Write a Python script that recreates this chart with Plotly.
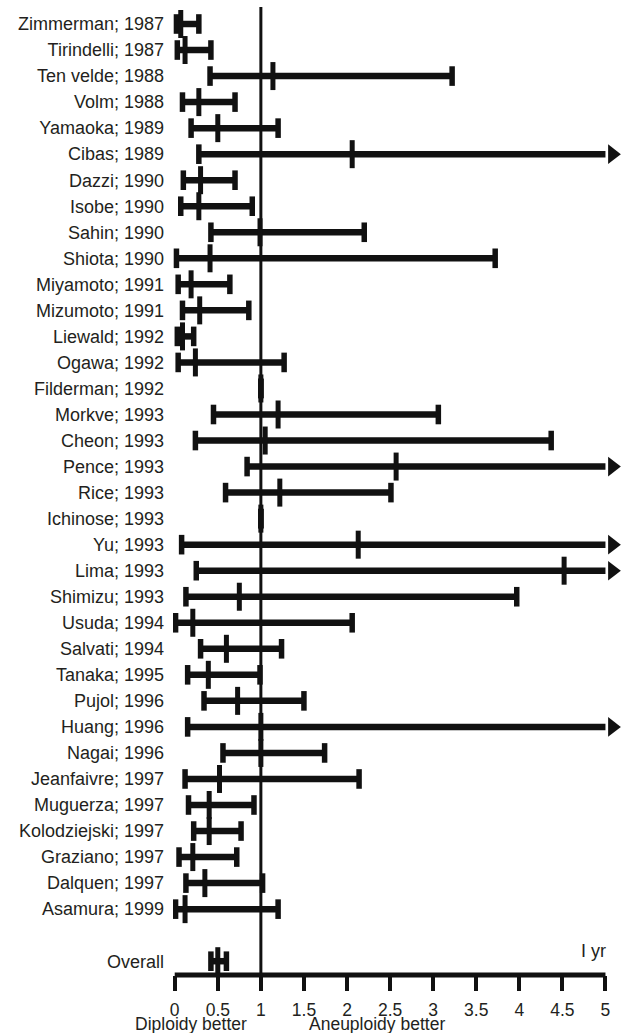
import plotly.graph_objects as go

studies = ["Zimmerman; 1987", "Tirindelli; 1987", "Ten velde; 1988", "Volm; 1988",
           "Yamaoka; 1989", "Cibas; 1989", "Dazzi; 1990", "Isobe; 1990", "Sahin; 1990",
           "Shiota; 1990", "Miyamoto; 1991", "Mizumoto; 1991", "Liewald; 1992",
           "Ogawa; 1992", "Filderman; 1992", "Morkve; 1993", "Cheon; 1993", "Pence; 1993",
           "Rice; 1993", "Ichinose; 1993", "Yu; 1993", "Lima; 1993", "Shimizu; 1993",
           "Usuda; 1994", "Salvati; 1994", "Tanaka; 1995", "Pujol; 1996", "Huang; 1996",
           "Nagai; 1996", "Jeanfaivre; 1997", "Muguerza; 1997", "Kolodziejski; 1997",
           "Graziano; 1997", "Dalquen; 1997", "Asamura; 1999"]
lower = [0.02, 0.03, 0.41, 0.09, 0.19, 0.28, 0.10, 0.07, 0.42, 0.02, 0.04, 0.09, 0.03,
         0.04, 1.00, 0.45, 0.24, 0.84, 0.59, 1.00, 0.08, 0.25, 0.13, 0.01, 0.30, 0.15,
         0.34, 0.15, 0.56, 0.12, 0.16, 0.22, 0.05, 0.13, 0.01]
estimate = [0.07, 0.12, 1.14, 0.28, 0.50, 2.06, 0.30, 0.28, 0.99, 0.41, 0.19, 0.29, 0.09,
            0.24, 1.00, 1.20, 1.05, 2.57, 1.22, 1.00, 2.13, 4.52, 0.75, 0.21, 0.60, 0.39,
            0.73, 1.00, 1.00, 0.52, 0.40, 0.40, 0.21, 0.35, 0.12]
# None = interval runs past the right edge of the scale (drawn as an arrow)
upper = [0.28, 0.42, 3.22, 0.70, 1.20, None, 0.70, 0.90, 2.20, 3.72, 0.64, 0.86, 0.22,
         1.27, 1.00, 3.06, 4.37, None, 2.51, 1.00, None, None, 3.97, 2.06, 1.24, 0.99,
         1.50, None, 1.74, 2.14, 0.92, 0.77, 0.72, 1.02, 1.20]

overall_label = "Overall"
overall = [0.42, 0.50, 0.60]  # lower, estimate, upper

tick_vals = [0, 0.5, 1, 1.5, 2, 2.5, 3, 3.5, 4, 4.5, 5]
tick_text = ["0", "0.5", "1", "1.5", "2", "2.5", "3", "3.5", "4", "4.5", "5"]
X_MAX = 5.0
NULL_VALUE = 1.0

FONT = "Liberation Sans, Arial, sans-serif"
TEXT_COLOR = "#231f20"
INK = "#111111"

labels = studies + [overall_label]
rows = list(range(len(studies))) + [len(studies) + 1]
lo_all = lower + [overall[0]]
est_all = estimate + [overall[1]]
up_all = upper + [overall[2]]

line_x, line_y = [], []
cap_x, cap_y = [], []
arr_x, arr_y = [], []
arrow_offset = 0.08
for r, lo, up in zip(rows, lo_all, up_all):
    right = X_MAX if up is None else up
    line_x += [lo, right, None]
    line_y += [r, r, None]
    cap_x.append(lo)
    cap_y.append(r)
    if up is None:
        arr_x.append(X_MAX + arrow_offset)
        arr_y.append(r)
    else:
        cap_x.append(up)
        cap_y.append(r)

fig = go.Figure()
fig.add_trace(go.Scatter(x=line_x, y=line_y, mode="lines",
                         line=dict(color=INK, width=6.5), hoverinfo="skip",
                         showlegend=False))
fig.add_trace(go.Scatter(x=cap_x, y=cap_y, mode="markers",
                         marker=dict(symbol="line-ns", size=14,
                                     line=dict(color=INK, width=5.5)),
                         showlegend=False))
fig.add_trace(go.Scatter(x=est_all, y=rows, mode="markers",
                         marker=dict(symbol="line-ns", size=20,
                                     line=dict(color=INK, width=5)),
                         showlegend=False))
fig.add_trace(go.Scatter(x=arr_x, y=arr_y, mode="markers",
                         marker=dict(symbol="triangle-right", size=17, color=INK,
                                     line=dict(width=0)),
                         cliponaxis=False, showlegend=False))

fig.add_shape(type="line", xref="x", yref="paper", x0=NULL_VALUE, x1=NULL_VALUE,
              y0=0, y1=1, line=dict(color=INK, width=3), layer="below")
fig.add_shape(type="line", xref="x", yref="paper", x0=tick_vals[0], x1=tick_vals[-1],
              y0=0, y1=0, line=dict(color=INK, width=5))

fig.add_annotation(text="I yr", xref="x", yref="y", x=X_MAX + 0.03, y=35.6,
                   xanchor="right", yanchor="middle", showarrow=False,
                   font=dict(family=FONT, size=18, color=TEXT_COLOR))
fig.add_annotation(text="Diploidy better", xref="paper", yref="paper", x=0.0393, y=-0.0505,
                   xanchor="center", yanchor="middle", showarrow=False,
                   font=dict(family=FONT, size=17.5, color=TEXT_COLOR))
fig.add_annotation(text="Aneuploidy better", xref="paper", yref="paper", x=0.449, y=-0.0505,
                   xanchor="center", yanchor="middle", showarrow=False,
                   font=dict(family=FONT, size=17.5, color=TEXT_COLOR))

fig.update_layout(
    width=633, height=1033,
    margin=dict(l=173, r=6, t=7, b=58, autoexpand=False),
    paper_bgcolor="white", plot_bgcolor="white",
    font=dict(family=FONT, size=18, color=TEXT_COLOR),
    showlegend=False,
    xaxis=dict(range=[-0.02, 5.25], tickvals=tick_vals, ticktext=tick_text,
               ticks="outside", ticklen=15, tickwidth=4, tickcolor=INK,
               ticklabelstandoff=4,
               showline=False, showgrid=False, zeroline=False, automargin=False,
               tickfont=dict(family=FONT, size=17.5, color=TEXT_COLOR)),
    yaxis=dict(range=[36.53, -0.653], tickvals=rows, ticktext=labels,
               showline=False, showgrid=False, zeroline=False, ticks="",
               automargin=False, ticklabelstandoff=8,
               tickfont=dict(family=FONT, size=18, color=TEXT_COLOR)),
)

fig.write_html(
    "out.html",
    config={"displayModeBar": False},
    post_script="document.body.style.margin='0';document.body.style.overflow='hidden';",
)
